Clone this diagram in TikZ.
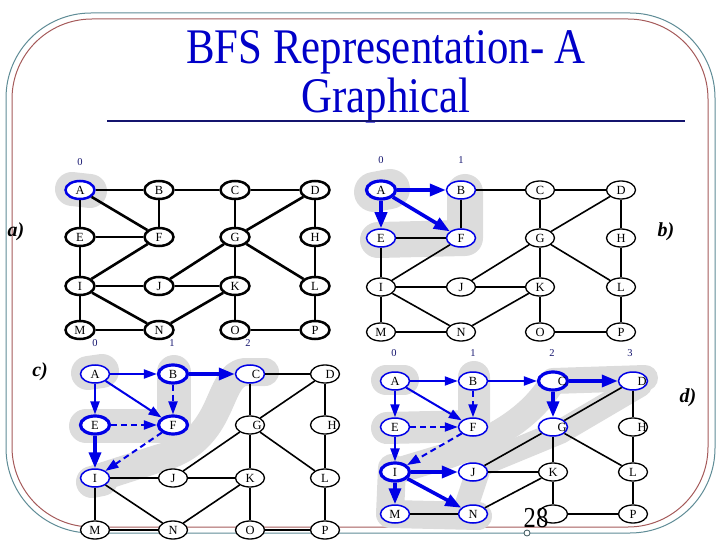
\documentclass[tikz,border=0pt]{standalone}
\usepackage{fontspec}
\setmainfont{Liberation Serif}
\usetikzlibrary{shapes.geometric, arrows.meta}
\definecolor{myblue}{RGB}{0,0,230}
\definecolor{titleblue}{RGB}{0,0,200}
\definecolor{mynavy}{RGB}{20,20,110}
\definecolor{blobgray}{RGB}{220,220,220}
\definecolor{frameteal}{RGB}{95,140,150}
\definecolor{framered}{RGB}{165,90,90}

\newcommand{\vlab}[2]{\ifcsname hide#1#2\endcsname\else#2\fi}
\newcommand{\hidedO}{}
\newcommand{\placevtx}[4]{\node[vtx,v#1#2/.try] (#1#2) at (#3,#4) {\vlab{#1}{#2}};}
\newcommand{\bfsgrid}[9]{%
 \foreach \n/\cx/\cy in {A/#2/#6,B/#3/#6,C/#4/#6,D/#5/#6,
                         E/#2/#7,F/#3/#7,G/#4/#7,H/#5/#7,
                         I/#2/#8,J/#3/#8,K/#4/#8,L/#5/#8,
                         M/#2/#9,N/#3/#9,O/#4/#9,P/#5/#9}{%
  \edef\vtxtmp{\noexpand\placevtx{#1}{\n}{\cx}{\cy}}\vtxtmp}}

\tikzset{
 vtx/.style={ellipse, draw, fill=white, line width=1.3bp, minimum width=29bp,
   minimum height=18bp, inner sep=0pt, font=\fontsize{12.5}{12.5}\selectfont},
 blueline/.style={draw=myblue, line width=1.5bp},
 bluebold/.style={draw=myblue, line width=3.2bp},
 link/.style={line width=1.6bp},
 arr/.style={myblue, line width=2bp, -{Triangle[length=13bp,width=9bp]}},
 bigarr/.style={myblue, line width=3.6bp, -{Triangle[length=16bp,width=12bp]}},
 dasharr/.style={arr, dash pattern=on 6bp off 4bp},
 lshift/.style={execute at begin node={\kern#1}, execute at end node={\kern-#1}},
 blob/.style={blobgray, line width=#1, line cap=round, line join=round},
 lvl/.style={text=mynavy, font=\fontsize{10.5}{10.5}\selectfont, inner sep=0pt},
 plabel/.style={font=\fontsize{20}{20}\selectfont\bfseries\itshape, inner sep=0pt},
 titletext/.style={text=titleblue, font=\fontsize{50}{50}\selectfont, xscale=0.86,
   inner sep=0pt, anchor=base},
 % looks of single vertices
 vaA/.style={draw=myblue},
 vbA/.style=bluebold, vbB/.style=blueline, vbE/.style=blueline, vbF/.style=blueline,
 vcA/.style=blueline, vcB/.style=bluebold, vcC/.style={blueline, lshift=6bp},
 vcD/.style={lshift=5bp}, vcE/.style=bluebold, vcF/.style=bluebold,
 vcG/.style={lshift=7bp}, vcH/.style={lshift=7bp}, vcI/.style=blueline,
 vdA/.style=blueline, vdB/.style=blueline, vdC/.style={bluebold, lshift=9bp},
 vdD/.style={blueline, lshift=9bp}, vdE/.style=blueline, vdF/.style=blueline,
 vdG/.style={blueline, lshift=9bp}, vdH/.style={lshift=9bp}, vdI/.style=bluebold,
 vdJ/.style=blueline, vdM/.style=blueline, vdN/.style=blueline,
}

\begin{document}
\begin{tikzpicture}[x=1bp, y=-1bp]
\useasboundingbox (0,0) rectangle (720,540);

 %frame
 \draw[frameteal, line width=1bp, rounded corners=85bp] (6,13) rectangle (715,533);
 \draw[framered, line width=1bp, rounded corners=80bp] (12,19) rectangle (708,527);

 %title
 \node[titletext] (t1) at (386,64) {BFS Representation- A};
 \node[titletext] (t2) at (386,113) {Graphical};
 \draw[mynavy, line width=1.2bp] (107,121) -- (685,121);

 %gray sets
 \draw[blob=34bp] (72,189) -- (90,191);
 \draw[blob=40bp] (374,192) -- (390,189);
 \draw[blob=36bp] (465,192) -- (465,238) -- (378,240);
 \draw[blob=34bp] (88,373) -- (102,371);
 \draw[blob=34bp] (174,372) -- (174,426) -- (86,426);
 \draw[blob=28bp] (265,372) -- (245,372) .. controls (215,375) and (228,440) .. (160,458) -- (98,478);
 \draw[blob=32bp] (92,482) -- (102,480);
 \draw[blob=30bp] (386,380) -- (404,380);
 \draw[blob=32bp] (474,377) -- (474,426) -- (387,428);
 \draw[blob=26bp] (645,378) -- (553,381) .. controls (530,420) and (490,440) .. (450,455) -- (400,470);
 \draw[blob=24bp] (640,385) -- (560,432) -- (480,465) -- (465,510);
 \draw[blob=28bp] (392,468) -- (390,514) -- (478,516);

 %levels
 \node[lvl] (la0) at (80,162) {0};
 \node[lvl] (lb0) at (381,160) {0};
 \node[lvl] (lb1) at (461,160) {1};
 \node[lvl] (lc0) at (95,343) {0};
 \node[lvl] (lc1) at (172,343) {1};
 \node[lvl] (lc2) at (248,343) {2};
 \node[lvl] (ld0) at (394,353) {0};
 \node[lvl] (ld1) at (473,353) {1};
 \node[lvl] (ld2) at (552,353) {2};
 \node[lvl] (ld3) at (630,353) {3};

 \node[plabel] (pa) at (16,232) {a)};
 \node[plabel] (pb) at (666,232) {b)};
 \node[plabel] (pc) at (40,372) {c)};
 \node[plabel] (pd) at (688,398) {d)};

 %panel a
 \begin{scope}[vtx/.append style={line width=2.5bp}, link/.append style={line width=2.6bp}]
 \bfsgrid{a}{80}{159}{235}{315}{190}{237}{286}{330}
 \foreach \u/\v in {A/B,B/C,C/D,A/E,A/F,B/F,E/F,C/G,D/G,D/H,E/I,F/I,G/J,G/K,G/L,
                    H/L,I/J,J/K,I/M,I/N,K/N,K/O,L/P,M/N,O/P}
   \draw[link] (a\u) -- (a\v);
 \end{scope}

 %panel b
 \bfsgrid{b}{381}{461}{540}{621}{190}{238}{287}{332}
 \foreach \u/\v in {B/C,C/D,B/F,E/F,C/G,D/G,D/H,E/I,F/I,G/J,G/K,G/L,
                    H/L,I/J,J/K,I/M,I/N,K/N,K/O,L/P,M/N,O/P}
   \draw[link] (b\u) -- (b\v);
 \draw[bigarr] (bA) -- (bB);
 \draw[bigarr] (bA) -- (bE);
 \draw[bigarr] (bA) -- (bF);

 %panel c
 \bfsgrid{c}{95}{173}{250}{325}{374}{425}{478}{530}
 \foreach \u/\v in {C/D,C/G,D/G,D/H,G/J,G/K,G/L,H/L,I/J,J/K,I/M,I/N,K/N,K/O,L/P,M/N,O/P}
   \draw[link] (c\u) -- (c\v);
 \draw[arr] (cA) -- (cB);
 \draw[arr] (cA) -- (cE);
 \draw[arr] (cA) -- (cF);
 \draw[dasharr] (cB) -- (cF);
 \draw[dasharr] (cE) -- (cF);
 \draw[dasharr] (cF) -- (cI);
 \draw[bigarr] (cB) -- (cC);
 \draw[bigarr] (cE) -- (cI);

 %panel d
 \bfsgrid{d}{395}{473}{553}{633}{381}{427}{472}{514}
 \foreach \u/\v in {D/G,D/H,G/J,G/K,G/L,H/L,J/K,K/N,K/O,L/P,M/N,O/P}
   \draw[link] (d\u) -- (d\v);
 \draw[arr] (dA) -- (dB);
 \draw[arr] (dA) -- (dE);
 \draw[arr] (dA) -- (dF);
 \draw[arr] (dE) -- (dI);
 \draw[arr] (dB) -- (dC);
 \draw[dasharr] (dB) -- (dF);
 \draw[dasharr] (dE) -- (dF);
 \draw[dasharr] (dF) -- (dI);
 \draw[bigarr] (dC) -- (dD);
 \draw[bigarr] (dC) -- (dG);
 \draw[bigarr] (dI) -- (dJ);
 \draw[bigarr] (dI) -- (dM);
 \draw[bigarr] (dI) -- (dN);

 %page number
 \node[font=\fontsize{29}{29}\selectfont, xscale=0.85, inner sep=0pt, anchor=base] (pg) at (536,527) {28};
 \draw[frameteal!60!black, fill=white, line width=0.8bp] (527,533) circle (3bp);
\end{tikzpicture}
\end{document}
